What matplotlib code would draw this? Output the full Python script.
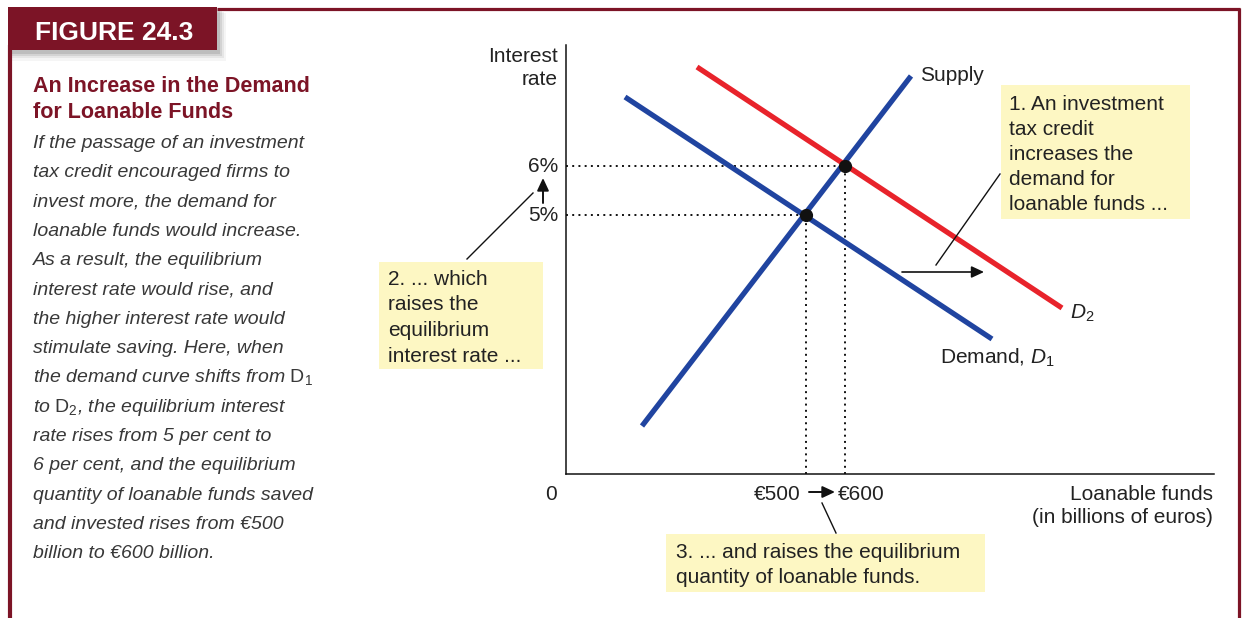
import matplotlib
matplotlib.use('Agg')
import matplotlib.pyplot as plt
from matplotlib.patches import Rectangle

# ---------------- data (schematic chart units) ----------------
supply_q = [76, 345]
supply_r = [48, 398]
demand1_q = [59, 426]
demand1_r = [377, 135]
demand2_q = [131, 496]
demand2_r = [407, 166]
eq_q = [240, 279]          # equilibrium quantities (D1, D2)
eq_r = [259, 308]          # equilibrium interest rates (D1, D2)
q_labels = ['€500', '€600']
r_labels = ['5%', '6%']

body_lines = [
    "If the passage of an investment",
    "tax credit encouraged firms to",
    "invest more, the demand for",
    "loanable funds would increase.",
    "As a result, the equilibrium",
    "interest rate would rise, and",
    "the higher interest rate would",
    "stimulate saving. Here, when",
    r"the demand curve shifts from $\mathrm{D}_{\mathit{1}}$",
    r"to $\mathrm{D}_{\mathit{2}}$, the equilibrium interest",
    "rate rises from 5 per cent to",
    "6 per cent, and the equilibrium",
    "quantity of loanable funds saved",
    "and invested rises from €500",
    "billion to €600 billion.",
]
box1_lines = ["1. An investment", "tax credit", "increases the", "demand for", "loanable funds ..."]
box2_lines = ["2. ... which", "raises the", "equilibrium", "interest rate ..."]
box3_lines = ["3. ... and raises the equilibrium", "quantity of loanable funds."]

# ---------------- style ----------------
plt.rcParams['font.family'] = ['Liberation Sans', 'DejaVu Sans']
plt.rcParams['mathtext.fontset'] = 'custom'
plt.rcParams['mathtext.rm'] = 'Liberation Sans'
plt.rcParams['mathtext.it'] = 'Liberation Sans:italic'
plt.rcParams['mathtext.bf'] = 'Liberation Sans:bold'

DARKRED = '#7c1426'
BLUE = '#2044a0'
RED = '#e8232b'
YELLOW = '#fdf7c3'
TXT = '#222222'
BODY = '#383838'
FS = 15
ARROW = '-|>,head_length=0.75,head_width=0.35'

W, H = 1243, 618
fig = plt.figure(figsize=(W / 100, H / 100), dpi=100)
fig.patch.set_facecolor('white')

# ---------------- chart axes ----------------
ax = fig.add_axes([566 / W, (H - 474) / H, (1214 - 566) / W, (474 - 45) / H], zorder=1)
ax.set_xlim(0, 648)
ax.set_ylim(0, 429)
ax.set_facecolor('none')
for s in ['top', 'right']:
    ax.spines[s].set_visible(False)
for s in ['left', 'bottom']:
    ax.spines[s].set_linewidth(1.1)
    ax.spines[s].set_color('#111111')
ax.set_xticks([])
ax.set_yticks([])

# dotted guides
for q, r in zip(eq_q, eq_r):
    ax.plot([0, q], [r, r], color='#111111', lw=1.4, ls=(0, (1, 2.2)), zorder=2)
    ax.plot([q, q], [0, r], color='#111111', lw=1.4, ls=(0, (1, 2.2)), zorder=2)

ax.plot(supply_q, supply_r, color=BLUE, lw=3.8, solid_capstyle='butt', zorder=3)
ax.plot(demand1_q, demand1_r, color=BLUE, lw=3.8, solid_capstyle='butt', zorder=3)
ax.plot(demand2_q, demand2_r, color=RED, lw=3.8, solid_capstyle='butt', zorder=3)
ax.plot(eq_q, eq_r, 'o', color='#111111', ms=8.5, zorder=4)

xt = ax.get_xaxis_transform()
yt = ax.get_yaxis_transform()

# axis value labels
ax.annotate(q_labels[0], xy=(eq_q[0], 0), xycoords=xt, xytext=(-5, -26),
            textcoords='offset pixels', ha='right', va='baseline', fontsize=FS, color=TXT)
ax.annotate(q_labels[1], xy=(eq_q[1], 0), xycoords=xt, xytext=(-7, -26),
            textcoords='offset pixels', ha='left', va='baseline', fontsize=FS, color=TXT)
ax.annotate('', xy=(eq_q[1] - 10, -18 / 429), xycoords=xt,
            xytext=(eq_q[0] + 3, -18 / 429), textcoords=xt,
            arrowprops=dict(arrowstyle=ARROW, color='#111111', lw=1.4,
                            shrinkA=0, shrinkB=0))
ax.annotate('0', xy=(0, 0), xycoords='axes fraction', xytext=(-15, -26),
            textcoords='offset pixels', ha='center', va='baseline', fontsize=FS, color=TXT)

for r, lab in zip(eq_r, r_labels):
    ax.annotate(lab, xy=(0, r), xycoords=yt, xytext=(-8, -6),
                textcoords='offset pixels', ha='right', va='baseline', fontsize=FS, color=TXT)
ax.annotate('', xy=(-23 / 648, eq_r[1] - 12), xycoords=yt,
            xytext=(-23 / 648, eq_r[0] + 12), textcoords=yt,
            arrowprops=dict(arrowstyle=ARROW, color='#111111', lw=1.4,
                            shrinkA=0, shrinkB=0))

# curve labels
ax.annotate('Supply', xy=(supply_q[1], supply_r[1]), xytext=(9, -5),
            textcoords='offset pixels', ha='left', va='baseline', fontsize=FS, color=TXT)
ax.annotate(r'$\mathit{D}_{\mathrm{2}}$', xy=(demand2_q[1], demand2_r[1]), xytext=(8, -11),
            textcoords='offset pixels', ha='left', va='baseline', fontsize=FS, color=TXT)
ax.annotate(r'Demand, $\mathit{D}_{\mathrm{1}}$', xy=(demand1_q[1], demand1_r[1]), xytext=(-52, -25),
            textcoords='offset pixels', ha='left', va='baseline', fontsize=FS, color=TXT)

# ---------------- overlay (pixel coordinates) ----------------
ov = fig.add_axes([0, 0, 1, 1], zorder=3)
ov.set_xlim(0, W)
ov.set_ylim(H, 0)
ov.axis('off')
ov.patch.set_alpha(0)

# axis titles
ov.text(558, 62, 'Interest', ha='right', va='baseline', fontsize=FS, color=TXT)
ov.text(558, 85, 'rate', ha='right', va='baseline', fontsize=FS, color=TXT)
ov.text(1213, 500, 'Loanable funds', ha='right', va='baseline', fontsize=FS, color=TXT)
ov.text(1213, 523, '(in billions of euros)', ha='right', va='baseline', fontsize=FS, color=TXT)

# yellow boxes
ov.add_patch(Rectangle((1001, 85), 189, 134, facecolor=YELLOW, edgecolor='none'))
ov.add_patch(Rectangle((379, 262), 164, 107, facecolor=YELLOW, edgecolor='none'))
ov.add_patch(Rectangle((666, 534), 319, 58, facecolor=YELLOW, edgecolor='none'))
for i, t in enumerate(box1_lines):
    ov.text(1009, 110 + 25 * i, t, ha='left', va='baseline', fontsize=FS, color=TXT)
for i, t in enumerate(box2_lines):
    ov.text(388, 285 + 25.5 * i, t, ha='left', va='baseline', fontsize=FS, color=TXT)
for i, t in enumerate(box3_lines):
    ov.text(676, 558 + 25 * i, t, ha='left', va='baseline', fontsize=FS, color=TXT)

# leader lines and shift arrow
ov.plot([1000, 936], [174, 265], color='#111111', lw=1.0)
ov.plot([467, 533], [259, 193], color='#111111', lw=1.0)
ov.plot([822, 836], [503, 533], color='#111111', lw=1.0)
ov.annotate('', xy=(984, 272), xytext=(902, 272),
            arrowprops=dict(arrowstyle=ARROW, color='#111111', lw=1.2,
                            shrinkA=0, shrinkB=0))

# frame
ov.plot([217, 1240], [9, 9], color=DARKRED, lw=2.3, solid_capstyle='butt')
ov.plot([1239.5, 1239.5], [8, H], color=DARKRED, lw=2.3, solid_capstyle='butt')
ov.plot([10.5, 10.5], [45, H], color=DARKRED, lw=3.0, solid_capstyle='butt')

# tab with soft shadow
for k, a in zip([9, 7, 5, 3], [0.04, 0.06, 0.08, 0.10]):
    ov.add_patch(Rectangle((8 + k * 0.5, 7 + k * 0.7), 209 + k * 0.5, 43 + k * 0.5,
                           facecolor='black', edgecolor='none', alpha=a))
ov.add_patch(Rectangle((8, 7), 209, 43, facecolor=DARKRED, edgecolor='none'))
ov.text(35, 40, 'FIGURE 24.3', ha='left', va='baseline', fontsize=19, fontweight='bold', color='white')

# title and body
ov.text(33, 92, 'An Increase in the Demand', ha='left', va='baseline', fontsize=15.5,
        fontweight='bold', color=DARKRED)
ov.text(33, 118, 'for Loanable Funds', ha='left', va='baseline', fontsize=15.5,
        fontweight='bold', color=DARKRED)
for i, t in enumerate(body_lines):
    ov.text(33, 148 + 29.3 * i, t, ha='left', va='baseline', fontsize=14,
            fontstyle='italic', color=BODY)

fig.savefig('out.png', dpi=100, facecolor='white')
